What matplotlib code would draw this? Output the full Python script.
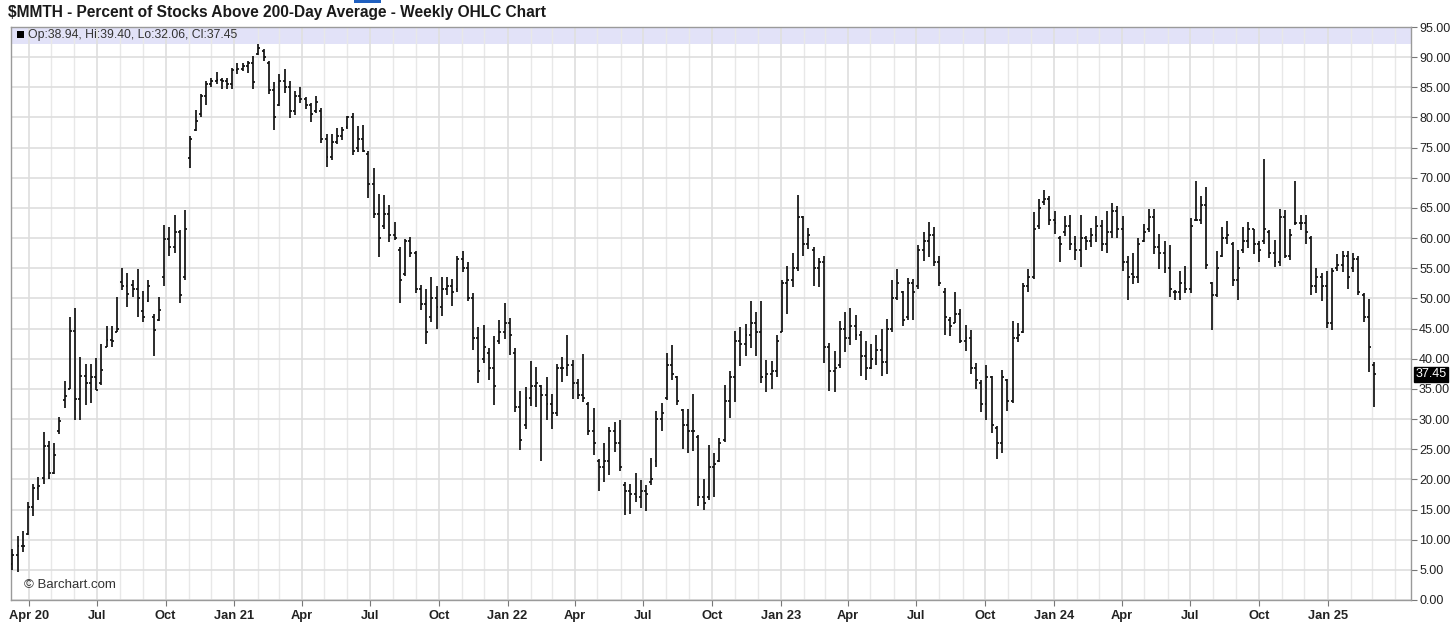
import numpy as np
import pandas as pd
import matplotlib
matplotlib.use('Agg')
import matplotlib.pyplot as plt
import matplotlib.dates as mdates
import matplotlib.transforms as mtransforms
from matplotlib.collections import LineCollection
from matplotlib.patches import Rectangle

plt.rcParams['font.family'] = ['Liberation Sans', 'DejaVu Sans']

# Weekly OHLC values of $MMTH (first bar: week of 9 Mar 2020)
opens = [
    6.0, 7.4, 8.9, 11.0, 15.5, 18.5, 20.2, 25.5, 21.0, 28.0,
    33.1, 35.0, 44.6, 33.4, 37.1, 36.0, 36.9, 36.0, 42.0, 43.1,
    44.5, 52.7, 52.0, 52.3, 51.5, 47.9, 49.5, 47.0, 46.5, 53.5,
    59.9, 58.5, 61.0, 53.5, 73.2, 78.0, 80.5, 83.5, 85.5, 86.0,
    86.2, 86.0, 85.5, 87.8, 88.0, 88.5, 89.0, 90.5, 91.0, 89.0,
    84.5, 82.0, 86.0, 85.0, 81.0, 83.5, 83.0, 82.0, 81.0, 81.0,
    76.5, 73.5, 76.0, 77.0, 78.5, 80.0, 75.0, 76.5, 74.0, 69.0,
    64.0, 62.0, 64.0, 60.5, 58.0, 54.0, 59.5, 57.5, 51.5, 49.0,
    47.0, 50.0, 48.5, 51.5, 52.0, 51.5, 56.5, 55.0, 50.0, 43.5,
    40.0, 41.0, 38.5, 43.0, 44.5, 46.0, 41.0, 32.0, 29.0, 33.5,
    35.5, 35.5, 34.0, 32.5, 31.0, 38.5, 38.5, 39.0, 36.0, 34.0,
    32.5, 28.0, 23.0, 22.0, 23.0, 28.0, 26.0, 19.0, 18.0, 17.5,
    17.0, 18.0, 19.5, 23.0, 30.0, 33.5, 39.0, 37.0, 31.5, 29.0,
    28.0, 27.0, 17.0, 17.0, 22.0, 23.0, 26.5, 33.0, 37.0, 43.0,
    42.5, 44.0, 46.0, 44.5, 37.0, 37.5, 38.0, 44.5, 52.5, 53.0,
    55.0, 63.5, 59.0, 58.0, 55.0, 56.0, 42.0, 38.0, 39.0, 45.0,
    43.5, 45.5, 44.0, 40.5, 38.5, 40.0, 41.5, 39.5, 45.0, 50.0,
    51.0, 47.0, 52.5, 52.0, 58.0, 59.5, 60.5, 56.0, 51.0, 46.5,
    46.0, 47.5, 43.0, 43.5, 38.5, 36.0, 32.5, 37.0, 28.5, 26.0,
    36.5, 33.0, 43.5, 44.5, 52.0, 53.5, 62.0, 66.0, 66.5, 63.0,
    60.0, 61.0, 62.0, 59.0, 58.0, 60.0, 59.5, 60.5, 62.0, 59.0,
    61.0, 64.5, 61.5, 56.0, 54.0, 53.5, 59.5, 61.5, 63.5, 58.5,
    57.5, 55.0, 51.0, 51.0, 52.5, 51.5, 63.0, 63.0, 65.5, 52.5,
    50.5, 57.0, 60.0, 59.0, 53.0, 58.0, 59.5, 61.5, 59.0, 59.5,
    61.0, 57.5, 56.0, 63.5, 57.0, 62.5, 62.5, 62.5, 60.0, 52.0,
    53.5, 52.0, 46.0, 55.0, 55.5, 57.0, 55.0, 56.5, 50.5, 47.0,
    38.94,
]
highs = [
    8.4, 10.6, 11.4, 16.2, 19.3, 20.4, 27.9, 26.4, 26.1, 30.3,
    36.3, 47.0, 48.4, 40.3, 39.1, 39.2, 40.1, 42.4, 45.5, 45.5,
    50.3, 55.1, 54.2, 53.1, 54.8, 51.2, 53.1, 47.4, 50.3, 62.1,
    61.8, 63.8, 61.4, 64.7, 77.0, 81.3, 83.9, 86.0, 86.6, 87.6,
    86.6, 86.6, 88.2, 89.0, 89.1, 89.4, 90.2, 92.1, 91.3, 89.3,
    85.8, 87.2, 88.0, 86.1, 84.4, 85.1, 83.4, 82.4, 83.6, 81.5,
    77.2, 77.3, 78.3, 78.5, 80.3, 80.7, 78.6, 78.8, 74.4, 71.6,
    67.3, 67.1, 65.5, 62.6, 58.6, 59.9, 60.2, 57.8, 52.3, 51.6,
    53.5, 52.0, 53.5, 53.6, 53.2, 57.0, 57.8, 56.0, 50.9, 45.2,
    45.6, 41.8, 43.7, 46.5, 49.2, 46.8, 41.8, 34.6, 35.3, 39.7,
    38.7, 35.7, 37.0, 34.2, 39.2, 40.3, 44.0, 39.8, 36.7, 40.8,
    32.9, 31.9, 23.3, 26.0, 28.6, 29.5, 29.8, 19.5, 19.3, 21.1,
    19.9, 19.1, 23.5, 31.3, 32.7, 41.0, 42.2, 37.1, 31.7, 31.7,
    34.1, 27.4, 20.1, 25.7, 24.4, 26.9, 35.7, 37.9, 44.6, 45.2,
    45.8, 49.5, 47.7, 49.5, 39.8, 39.7, 44.0, 53.1, 55.3, 57.6,
    67.1, 63.6, 61.6, 58.5, 56.7, 57.0, 42.6, 41.2, 46.3, 47.7,
    48.4, 47.2, 44.6, 43.0, 42.4, 44.0, 45.0, 46.6, 53.0, 54.9,
    51.3, 53.4, 53.2, 58.9, 61.0, 62.7, 61.8, 57.1, 51.7, 47.0,
    51.1, 48.3, 45.6, 44.8, 39.3, 36.4, 38.9, 37.1, 28.8, 38.1,
    36.7, 46.3, 45.9, 52.5, 54.9, 64.3, 66.5, 67.9, 67.0, 64.5,
    60.4, 63.7, 63.9, 60.4, 63.9, 60.3, 61.7, 63.6, 63.0, 64.5,
    65.9, 65.3, 63.6, 57.1, 57.6, 60.1, 62.3, 64.8, 64.8, 60.6,
    59.5, 58.9, 51.4, 54.6, 55.3, 63.3, 69.5, 67.0, 68.4, 52.8,
    57.8, 61.8, 62.9, 59.4, 58.0, 61.9, 62.7, 61.5, 59.6, 73.1,
    61.3, 59.7, 64.8, 64.7, 61.5, 69.5, 63.9, 63.9, 60.4, 55.1,
    54.2, 54.6, 55.1, 57.3, 57.8, 57.8, 57.5, 57.1, 50.9, 49.9,
    39.40,
]
lows = [
    5.0, 4.7, 8.0, 10.8, 14.0, 16.6, 19.3, 20.0, 20.9, 27.5,
    31.9, 34.9, 29.8, 29.9, 32.4, 32.6, 34.8, 35.6, 41.9, 41.9,
    44.4, 51.4, 48.5, 50.2, 46.9, 46.1, 49.4, 40.5, 46.3, 52.1,
    57.1, 57.6, 49.2, 53.0, 71.6, 77.7, 80.1, 82.1, 85.0, 85.6,
    84.7, 84.7, 84.7, 87.2, 87.7, 87.4, 84.7, 90.4, 89.4, 83.9,
    77.9, 81.9, 84.1, 79.9, 80.4, 82.4, 81.4, 79.2, 80.8, 75.7,
    71.8, 72.9, 75.6, 76.3, 78.1, 73.8, 74.3, 74.2, 66.6, 63.3,
    56.8, 61.5, 59.3, 59.7, 49.2, 53.8, 56.8, 50.9, 48.0, 42.4,
    46.1, 45.0, 47.1, 50.5, 48.8, 51.0, 54.3, 49.5, 41.5, 36.0,
    39.3, 36.4, 32.4, 42.5, 43.2, 40.7, 31.2, 24.9, 28.3, 32.1,
    32.0, 23.1, 29.8, 28.4, 30.5, 36.1, 37.1, 33.3, 33.3, 32.9,
    27.3, 24.0, 18.0, 19.6, 20.7, 24.5, 21.4, 14.1, 14.3, 16.2,
    15.3, 14.8, 19.0, 22.1, 28.0, 33.2, 36.4, 32.4, 25.0, 24.4,
    24.7, 15.6, 14.9, 16.6, 17.0, 22.8, 26.2, 30.1, 32.8, 38.8,
    40.4, 41.7, 40.5, 35.9, 34.5, 35.0, 36.9, 44.4, 47.5, 51.9,
    54.5, 57.1, 58.2, 52.1, 51.9, 39.3, 34.6, 34.5, 38.5, 41.1,
    42.2, 43.1, 37.2, 36.4, 38.3, 38.9, 37.2, 37.4, 44.5, 49.8,
    45.5, 46.5, 46.5, 51.6, 56.2, 56.9, 55.3, 52.0, 44.0, 43.7,
    45.9, 42.6, 41.3, 37.5, 35.0, 31.2, 29.8, 27.7, 23.3, 24.4,
    31.3, 32.7, 42.8, 44.2, 51.0, 53.2, 61.5, 65.5, 62.1, 60.6,
    56.0, 60.4, 58.0, 56.4, 55.2, 58.0, 58.6, 59.3, 57.8, 57.6,
    60.1, 60.1, 54.6, 49.7, 52.4, 52.6, 59.3, 61.0, 57.4, 54.9,
    54.2, 50.3, 49.8, 49.7, 50.9, 50.9, 62.9, 62.3, 54.8, 44.8,
    50.3, 56.9, 59.1, 52.0, 49.7, 57.6, 58.4, 57.3, 56.0, 59.1,
    56.7, 55.2, 55.4, 56.7, 56.4, 62.1, 61.4, 59.1, 50.6, 50.9,
    49.5, 45.1, 44.7, 54.6, 54.3, 51.5, 54.3, 50.6, 46.1, 37.8,
    32.06,
]
closes = [
    7.4, 8.9, 9.0, 15.5, 18.5, 18.9, 25.5, 21.0, 24.0, 29.7,
    33.8, 44.6, 33.4, 37.1, 36.0, 36.9, 34.8, 38.2, 43.1, 43.0,
    45.0, 52.0, 50.8, 51.5, 50.1, 46.9, 52.0, 44.7, 48.0, 59.9,
    58.5, 61.0, 50.5, 61.5, 76.5, 79.4, 83.5, 85.5, 86.0, 86.2,
    86.0, 85.5, 87.8, 88.0, 88.5, 89.0, 85.8, 91.5, 90.0, 84.5,
    80.0, 86.0, 85.0, 81.0, 83.5, 83.0, 82.0, 80.5, 82.5, 76.5,
    73.5, 76.0, 77.0, 78.0, 80.0, 74.5, 76.5, 74.5, 69.0, 64.0,
    60.0, 64.0, 60.5, 60.0, 53.0, 59.5, 57.5, 51.5, 49.0, 44.5,
    50.0, 48.5, 51.5, 52.0, 51.0, 56.5, 55.0, 50.0, 43.5, 38.0,
    42.0, 38.5, 35.5, 44.5, 46.0, 44.0, 32.0, 26.5, 33.5, 35.5,
    36.0, 34.0, 32.5, 31.0, 38.5, 38.5, 39.0, 36.0, 34.0, 33.5,
    28.0, 26.0, 22.0, 23.0, 28.0, 26.0, 22.0, 18.0, 17.5, 17.0,
    18.0, 17.5, 20.0, 30.0, 31.0, 39.0, 37.5, 33.0, 29.0, 28.0,
    28.0, 17.0, 16.0, 22.0, 22.5, 26.0, 33.0, 37.0, 43.0, 42.5,
    44.0, 46.0, 44.5, 37.0, 37.5, 38.0, 43.0, 52.5, 53.0, 55.0,
    63.5, 59.0, 60.5, 55.0, 56.0, 42.0, 38.0, 38.5, 45.0, 43.5,
    45.5, 44.0, 40.5, 38.5, 40.0, 41.5, 39.5, 45.0, 50.0, 52.5,
    46.5, 52.5, 51.0, 58.0, 59.5, 60.5, 56.0, 52.5, 47.0, 45.5,
    47.5, 43.0, 43.5, 38.5, 36.5, 32.5, 37.0, 29.0, 26.0, 37.0,
    33.0, 43.5, 44.0, 52.0, 53.5, 61.5, 65.0, 66.5, 63.0, 62.5,
    59.0, 62.0, 59.0, 58.0, 60.0, 59.5, 60.5, 62.0, 59.0, 61.0,
    64.5, 61.5, 56.0, 53.5, 53.5, 59.0, 61.0, 63.5, 58.5, 57.5,
    55.0, 51.5, 51.0, 52.5, 51.5, 62.0, 63.0, 65.5, 55.5, 50.5,
    55.0, 60.0, 60.5, 53.0, 55.0, 59.5, 61.5, 59.0, 58.0, 61.5,
    57.5, 56.0, 63.5, 57.0, 60.5, 62.5, 62.5, 61.0, 52.0, 53.5,
    52.0, 46.0, 54.5, 55.5, 57.0, 53.5, 56.5, 51.0, 47.0, 41.9,
    37.45,
]

tick_dates = pd.date_range('2020-04-01', '2025-01-01', freq='QS')
tick_labels = ['Apr 20', 'Jul', 'Oct', 'Jan 21', 'Apr', 'Jul', 'Oct', 'Jan 22',
               'Apr', 'Jul', 'Oct', 'Jan 23', 'Apr', 'Jul', 'Oct', 'Jan 24',
               'Apr', 'Jul', 'Oct', 'Jan 25']
y_ticks = np.arange(0, 96, 5)

weeks = pd.date_range('2020-03-10', periods=len(closes), freq='7D')
x = mdates.date2num(weeks)

W, H = 1456, 625
fig = plt.figure(figsize=(W / 100, H / 100), dpi=100)
ax = fig.add_axes([11 / W, 25 / H, 1399.7 / W, 573 / H])

# OHLC bars: high-low stem, open tick to the left, close tick to the right
tl = 2.6
segs = []
for xi, o, h, l, c in zip(x, opens, highs, lows, closes):
    segs.append([(xi, l), (xi, h)])
    segs.append([(xi - tl, o), (xi, o)])
    segs.append([(xi, c), (xi + tl, c)])
ax.add_collection(LineCollection(segs, colors='#111111', linewidths=1.25, zorder=3))

ax.set_xlim(x[0] - 1.7, x[-1] + 49)
ax.set_ylim(0, 95)

# header band inside the plot
ax.axhspan(92.2, 95, color='#e2e2f8', zorder=0, lw=0)

# grid: monthly verticals, slightly stronger at the quarters
ax.xaxis.set_minor_locator(mdates.MonthLocator())
ax.set_xticks(mdates.date2num(tick_dates))
ax.set_xticklabels(tick_labels, fontweight='bold', fontsize=9.3, color='#222222')
ax.grid(which='minor', axis='x', color='#e8e8e8', lw=1.0, zorder=1)
ax.grid(which='major', axis='x', color='#e0e0e0', lw=1.3, zorder=1)
ax.set_yticks(y_ticks)
ax.set_yticklabels(['%.2f' % v for v in y_ticks], fontsize=9, color='#222222')
ax.grid(which='major', axis='y', color='#dedede', lw=1.2, zorder=1)
ax.set_axisbelow(True)

ax.yaxis.tick_right()
ax.tick_params(axis='y', which='major', length=4, color='#777777', pad=2)
ax.tick_params(axis='x', which='major', length=4, color='#777777', pad=3)
ax.tick_params(axis='x', which='minor', length=0)
for sp in ax.spines.values():
    sp.set_color('#9a9a9a')
    sp.set_linewidth(1.0)

# last price box on the right axis
trans = mtransforms.blended_transform_factory(ax.transAxes, ax.transData)
ax.text(1.0035, closes[-1], '%.2f' % closes[-1], transform=trans, fontsize=9,
        color='white', ha='left', va='center',
        bbox=dict(boxstyle='square,pad=0.12', fc='black', ec='black'))

# title and header text
fig.text(8 / W, 1 - 12 / H, '\\$MMTH - Percent of Stocks Above 200-Day Average - Weekly OHLC Chart',
         fontsize=11.2, fontweight='bold', color='#1a1a1a', ha='left', va='center')
fig.patches.append(Rectangle((17 / W, 1 - 38 / H), 7 / W, 7 / H, transform=fig.transFigure,
                             fc='black', ec='none'))
fig.text(28 / W, 1 - 35 / H, 'Op:%.2f, Hi:%.2f, Lo:%.2f, Cl:%.2f'
         % (opens[-1], highs[-1], lows[-1], closes[-1]),
         fontsize=8.8, color='#333333', ha='left', va='center')
fig.text(24 / W, 1 - 585 / H, '\u00a9 Barchart.com', fontsize=9.5, color='#333333',
         ha='left', va='center')
fig.patches.append(Rectangle((354 / W, 1 - 3 / H), 27 / W, 3 / H, transform=fig.transFigure,
                             fc='#1f5fbf', ec='none'))

fig.savefig('out.png', dpi=100)
